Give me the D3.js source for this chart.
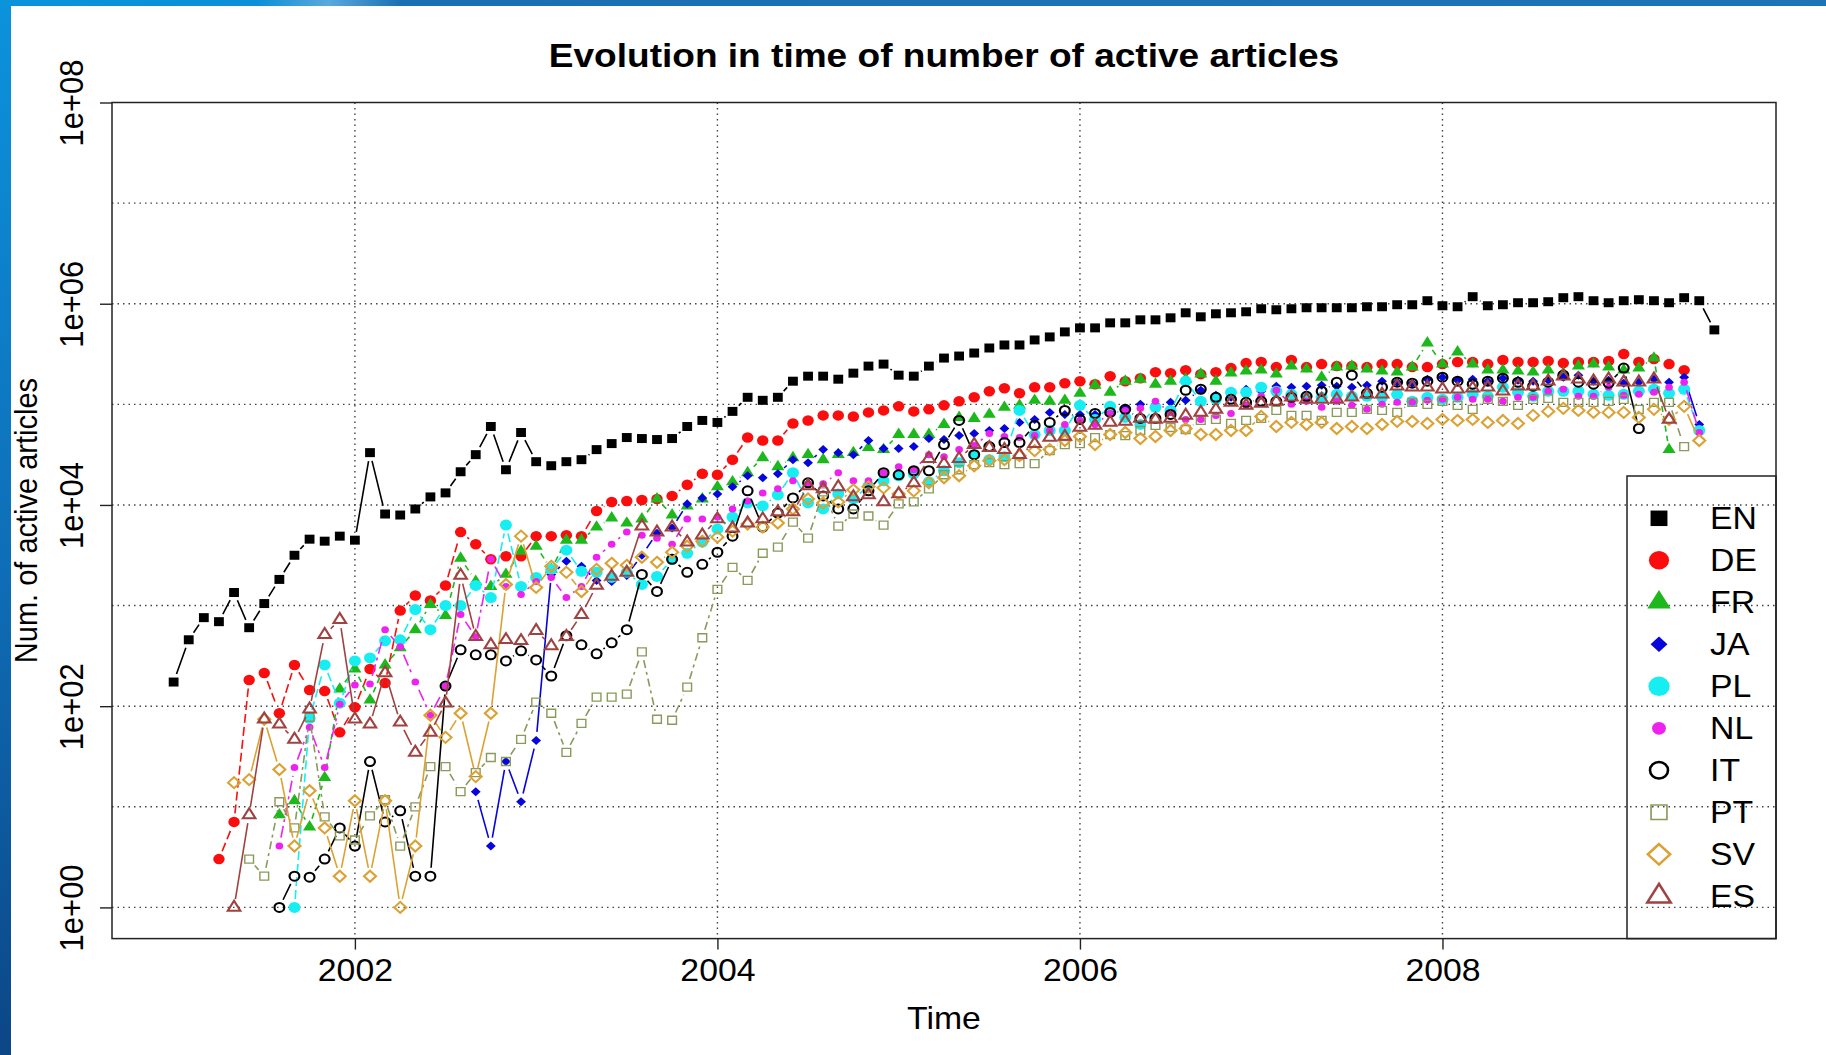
<!DOCTYPE html>
<html lang="en">
<head>
    <meta charset="UTF-8">
    <title>Evolution in time of number of active articles</title>
    <script src="https://cdn.jsdelivr.net/npm/d3@7"></script>
    <style>
        body{
            margin: 0;
            background-color: #fff;
        }
        text{
            font-family: "Liberation Sans", Arial, Helvetica, sans-serif;
        }
    </style>
</head>
<body>
<script>

    // Languages, in legend order, and the month (0 = Jan 2001) of each first point
    const languages = ["EN", "DE", "FR", "JA", "PL", "NL", "IT", "PT", "SV", "ES"];
    const startMonth = [0, 3, 7, 20, 8, 7, 7, 5, 4, 4];
    const firstYear = 2001;

    // log10(number of active articles), one value per month
    const EN = [2.24, 2.66, 2.88, 2.84, 3.13, 2.78, 3.02, 3.26, 3.50, 3.66,
        3.64, 3.69, 3.65, 4.52, 3.91, 3.90, 3.96, 4.08, 4.12, 4.33,
        4.50, 4.78, 4.35, 4.72, 4.43, 4.39, 4.43, 4.45, 4.55, 4.61,
        4.67, 4.66, 4.65, 4.66, 4.78, 4.84, 4.82, 4.93, 5.07, 5.04,
        5.07, 5.23, 5.28, 5.28, 5.25, 5.31, 5.38, 5.40, 5.29, 5.28,
        5.38, 5.46, 5.48, 5.51, 5.56, 5.59, 5.59, 5.64, 5.67, 5.72,
        5.76, 5.76, 5.81, 5.81, 5.84, 5.84, 5.86, 5.91, 5.87, 5.90,
        5.91, 5.92, 5.95, 5.94, 5.95, 5.96, 5.96, 5.96, 5.96, 5.97,
        5.97, 5.99, 5.99, 6.03, 5.98, 5.97, 6.07, 5.98, 5.99, 6.01,
        6.01, 6.02, 6.06, 6.07, 6.03, 6.01, 6.03, 6.04, 6.03, 6.01,
        6.06, 6.03, 5.74];
    const DE = [0.48, 0.85, 2.26, 2.33, 1.93, 2.41, 2.16,
        2.15, 1.74, 1.99, 2.37, 2.23, 2.95, 3.10, 3.05, 3.20, 3.73,
        3.61, 3.46, 3.49, 3.49, 3.69, 3.69, 3.70, 3.69, 3.94, 4.03,
        4.04, 4.05, 4.06, 4.09, 4.20, 4.31, 4.30, 4.45, 4.67, 4.64,
        4.64, 4.81, 4.84, 4.89, 4.89, 4.88, 4.92, 4.94, 4.98, 4.93,
        4.95, 4.99, 5.03, 5.07, 5.13, 5.16, 5.11, 5.17, 5.17, 5.21,
        5.23, 5.20, 5.28, 5.23, 5.26, 5.32, 5.31, 5.34, 5.30, 5.32,
        5.36, 5.41, 5.42, 5.37, 5.44, 5.37, 5.40, 5.38, 5.38, 5.37,
        5.40, 5.40, 5.37, 5.37, 5.40, 5.42, 5.42, 5.40, 5.44, 5.42,
        5.42, 5.43, 5.41, 5.42, 5.42, 5.43, 5.50, 5.42, 5.45, 5.40,
        5.34];
    const FR = [0.92, 1.06, 0.80,
        1.29, 2.17, 2.37, 2.06, 2.41, 2.58, 2.76, 3.01, 2.90, 3.47,
        3.24, 3.19, 3.31, 3.54, 3.59, 3.36, 3.65, 3.65, 3.78, 3.87,
        3.82, 3.86, 4.06, 3.90, 3.99, 4.06, 4.18, 4.23, 4.32, 4.47,
        4.38, 4.47, 4.50, 4.45, 4.50, 4.52, 4.57, 4.55, 4.70, 4.70,
        4.70, 4.80, 4.87, 4.86, 4.90, 4.97, 4.99, 5.04, 5.03, 5.04,
        5.11, 5.19, 5.12, 5.23, 5.25, 5.20, 5.23, 5.25, 5.30, 5.23,
        5.31, 5.33, 5.34, 5.30, 5.38, 5.35, 5.27, 5.37, 5.38, 5.35,
        5.33, 5.32, 5.37, 5.61, 5.40, 5.52, 5.40, 5.34, 5.34, 5.33,
        5.32, 5.34, 5.31, 5.38, 5.40, 5.37, 5.34, 5.36, 5.46, 4.55];
    const JA = [1.15, 0.61, 1.45, 1.05, 1.66, 3.31, 3.44, 3.39, 3.25, 3.24,
        3.30, 3.50, 3.72, 3.77, 4.01, 4.07, 4.11, 4.18, 4.29, 4.27,
        4.31, 4.45, 4.42, 4.55, 4.52, 4.50, 4.64, 4.56, 4.56, 4.58,
        4.66, 4.65, 4.69, 4.71, 4.74, 4.76, 4.82, 4.85, 4.92, 4.90,
        4.90, 4.90, 4.92, 4.96, 5.00, 5.00, 5.02, 5.04, 5.14, 5.09,
        5.07, 5.15, 5.13, 5.18, 5.17, 5.18, 5.19, 5.18, 5.17, 5.19,
        5.23, 5.22, 5.21, 5.25, 5.27, 5.24, 5.25, 5.23, 5.26, 5.24,
        5.23, 5.24, 5.27, 5.29, 5.23, 5.24, 5.21, 5.22, 5.25, 5.22,
        5.27, 4.80];
    const PL = [0.00, 1.88,
        2.41, 2.03, 2.45, 2.48, 2.65, 2.66, 2.96, 2.76, 3.00, 3.00,
        3.20, 3.08, 3.80, 3.19, 3.28, 3.36, 3.55, 3.34, 3.33, 3.28,
        3.33, 3.21, 3.29, 3.46, 3.52, 3.63, 3.76, 3.88, 4.02, 3.99,
        4.10, 4.32, 4.02, 3.96, 4.11, 4.06, 4.19, 4.24, 4.29, 4.31,
        4.23, 4.34, 4.42, 4.50, 4.45, 4.48, 4.94, 4.70, 4.74, 4.74,
        4.99, 4.85, 4.98, 4.87, 4.80, 4.97, 4.94, 5.23, 5.03, 5.05,
        5.12, 5.12, 5.17, 5.13, 5.10, 5.08, 5.07, 5.10, 5.08, 5.08,
        5.07, 5.10, 5.03, 5.07, 5.05, 5.07, 5.10, 5.08, 5.17, 5.12,
        5.08, 5.13, 5.13, 5.13, 5.10, 5.09, 5.10, 5.13, 5.15, 5.11,
        5.15, 4.74];
    const NL = [0.61, 1.39, 1.79,
        1.39, 2.02, 2.21, 2.22, 2.76, 2.59, 2.24, 1.91, 2.20, 2.91,
        2.69, 3.46, 3.19, 3.11, 3.24, 3.28, 3.08, 3.19, 3.48, 3.61,
        3.73, 3.70, 3.67, 3.61, 3.86, 3.86, 3.88, 3.96, 4.04, 4.12,
        4.16, 4.24, 4.21, 4.21, 4.32, 4.24, 4.24, 4.32, 4.38, 4.35,
        4.50, 4.48, 4.55, 4.59, 4.71, 4.68, 4.67, 4.69, 4.74, 4.80,
        4.84, 4.80, 4.91, 4.94, 4.96, 5.03, 4.92, 4.85, 4.85, 4.89,
        4.91, 4.99, 5.08, 5.14, 5.00, 5.03, 4.97, 5.03, 4.99, 4.95,
        5.00, 5.02, 5.02, 5.04, 5.05, 5.07, 5.05, 5.05, 5.03, 5.07,
        5.07, 5.13, 5.15, 5.08, 5.08, 5.17, 5.09, 5.10, 5.12, 5.17,
        5.22, 4.72];
    const IT = [0.00, 0.31, 0.30,
        0.48, 0.79, 0.61, 1.45, 0.85, 0.96, 0.31, 0.31, 2.20, 2.56,
        2.51, 2.51, 2.45, 2.55, 2.46, 2.30, 2.70, 2.61, 2.52, 2.63,
        2.76, 3.31, 3.14, 3.46, 3.33, 3.41, 3.53, 3.69, 4.14, 3.78,
        3.92, 4.07, 4.22, 4.09, 3.96, 3.96, 4.14, 4.32, 4.30, 4.34,
        4.34, 4.60, 4.84, 4.50, 4.58, 4.62, 4.62, 4.79, 4.82, 4.94,
        4.85, 4.91, 4.92, 4.95, 4.86, 4.86, 4.90, 5.14, 5.15, 5.07,
        5.05, 5.02, 5.03, 5.03, 5.07, 5.08, 5.13, 5.22, 5.29, 5.11,
        5.17, 5.22, 5.21, 5.23, 5.27, 5.23, 5.20, 5.23, 5.26, 5.22,
        5.18, 5.22, 5.29, 5.22, 5.20, 5.21, 5.36, 4.76];
    const PT = [0.48, 0.31, 1.05, 0.79, 1.89,
        0.90, 0.71, 0.67, 0.91, 1.07, 0.61, 1.00, 1.40, 1.40, 1.15,
        1.34, 1.49, 1.45, 1.67, 2.04, 1.93, 1.54, 1.83, 2.09, 2.09,
        2.12, 2.54, 1.87, 1.86, 2.19, 2.68, 3.16, 3.38, 3.25, 3.52,
        3.58, 3.83, 3.67, 4.13, 3.79, 3.91, 3.89, 3.80, 4.01, 4.03,
        4.16, 4.30, 4.35, 4.40, 4.42, 4.40, 4.41, 4.41, 4.54, 4.60,
        4.61, 4.67, 4.70, 4.69, 4.74, 4.79, 4.77, 4.75, 4.84, 4.85,
        4.81, 4.84, 4.86, 4.94, 4.89, 4.89, 4.84, 4.92, 4.92, 4.95,
        4.94, 4.92, 5.02, 5.00, 5.03, 4.99, 4.95, 5.05, 5.03, 4.99,
        5.05, 5.06, 5.02, 5.02, 5.02, 5.03, 5.05, 4.95, 5.02, 5.02,
        4.58];
    const SV = [1.24, 1.27, 1.87, 1.37, 0.61, 1.16,
        0.79, 0.31, 1.06, 0.31, 1.06, 0.00, 0.61, 1.91, 1.69, 1.93,
        1.30, 1.93, 3.21, 3.69, 3.18, 3.39, 3.33, 3.14, 3.36, 3.42,
        3.40, 3.48, 3.43, 3.53, 3.59, 3.64, 3.68, 3.74, 3.81, 3.78,
        3.82, 3.96, 4.06, 4.02, 4.03, 4.15, 4.18, 4.17, 4.11, 4.14,
        4.22, 4.27, 4.29, 4.39, 4.44, 4.45, 4.49, 4.54, 4.55, 4.64,
        4.68, 4.60, 4.70, 4.72, 4.66, 4.68, 4.74, 4.76, 4.70, 4.70,
        4.74, 4.74, 4.88, 4.78, 4.82, 4.80, 4.82, 4.76, 4.78, 4.76,
        4.80, 4.83, 4.83, 4.81, 4.85, 4.84, 4.85, 4.82, 4.84, 4.81,
        4.89, 4.93, 4.96, 4.94, 4.92, 4.92, 4.92, 4.87, 4.95, 4.85,
        4.98, 4.64];
    const ES = [0.00, 0.92, 1.87, 1.82, 1.67, 1.97,
        2.71, 2.86, 1.87, 1.82, 2.33, 1.84, 1.54, 1.74, 2.03, 3.30,
        2.69, 2.61, 2.66, 2.65, 2.75, 2.60, 2.69, 2.91, 3.20, 3.29,
        3.33, 3.79, 3.73, 3.78, 3.63, 3.70, 3.86, 3.77, 3.82, 3.86,
        3.93, 3.93, 4.19, 4.16, 4.18, 4.08, 4.10, 4.03, 4.11, 4.22,
        4.46, 4.41, 4.46, 4.60, 4.57, 4.55, 4.50, 4.61, 4.67, 4.68,
        4.77, 4.79, 4.82, 4.83, 4.86, 4.85, 4.86, 4.89, 4.92, 4.95,
        5.02, 4.99, 5.01, 5.03, 5.07, 5.05, 5.05, 5.05, 5.07, 5.10,
        5.10, 5.18, 5.17, 5.17, 5.15, 5.15, 5.16, 5.17, 5.13, 5.18,
        5.18, 5.23, 5.28, 5.25, 5.23, 5.25, 5.22, 5.22, 5.25, 4.85];

    const seriesValues = [EN, DE, FR, JA, PL, NL, IT, PT, SV, ES];
    const xTicks = [2002, 2004, 2006, 2008];
    const yTicks = [1, 1e2, 1e4, 1e6, 1e8];

    // Look of each series
    const colors = ["#000000", "#fb0d0d", "#1cb81c", "#0505dc", "#16eef2", "#ee22ee",
        "#000000", "#8b9a5b", "#dba233", "#a04242"];
    const shapes = ["square", "circle", "triangle", "diamond", "circle", "circle",
        "circle", "square", "diamond", "triangle"];
    const filled = [true, true, true, true, true, true, false, false, false, false];
    const sizes = [9, 10.5, 12, 9, 11, 7, 9, 8, 11, 11.5];
    const legendSizes = [15.5, 18.5, 21.5, 15.5, 19.5, 12.7, 16.5, 14.6, 20.5, 21.5];
    const dashes = [null, "9,4", "6,4", null, "9,4", "12,4,3,4", null, "8,4,3,4", null, null];

    const width = 1826;
    const height = 1055;
    const plot = {left: 112, right: 1776, top: 102.5, bottom: 938.6};
    const stretch = 1.09;   // the picture is a little wider than tall
    const gap = 8.5;        // space left round each point (type "b")

    const svg = d3.select("body")
        .append("svg")
        .attr("width", width)
        .attr("height", height);

    // Slide frame in the corner
    const defs = svg.append("defs");
    const gLeft = defs.append("linearGradient").attr("id", "edgeLeft")
        .attr("x1", 0).attr("y1", 0).attr("x2", 0).attr("y2", 1);
    gLeft.append("stop").attr("offset", "0%").attr("stop-color", "#0b93dc");
    gLeft.append("stop").attr("offset", "55%").attr("stop-color", "#0e6db6");
    gLeft.append("stop").attr("offset", "100%").attr("stop-color", "#0c4686");
    const gTop = defs.append("linearGradient").attr("id", "edgeTop")
        .attr("x1", 0).attr("y1", 0).attr("x2", 1).attr("y2", 0);
    gTop.append("stop").attr("offset", "0%").attr("stop-color", "#0a93dc");
    gTop.append("stop").attr("offset", "14%").attr("stop-color", "#0a8fd8");
    gTop.append("stop").attr("offset", "18%").attr("stop-color", "#5aa8dc");
    gTop.append("stop").attr("offset", "22%").attr("stop-color", "#1a6fb3");
    gTop.append("stop").attr("offset", "100%").attr("stop-color", "#1c74b8");
    svg.append("rect").attr("x", 0).attr("y", 0).attr("width", width).attr("height", 6)
        .attr("fill", "url(#edgeTop)");
    svg.append("rect").attr("x", 0).attr("y", 0).attr("width", 11).attr("height", height)
        .attr("fill", "url(#edgeLeft)");

    // Scales
    const x = d3.scaleLinear()
        .domain([2000.66, 2009.84])
        .range([plot.left, plot.right]);
    const y = d3.scaleLog()
        .domain([Math.pow(10, -0.31), 1e8])
        .range([plot.bottom, plot.top]);

    // Dotted grid
    const grid = svg.append("g")
        .attr("stroke", "#444")
        .attr("stroke-width", 1.4)
        .attr("stroke-dasharray", "1.5,4");
    grid.selectAll("line.h")
        .data(d3.range(0, 8).map(e => Math.pow(10, e)))
        .enter()
        .append("line")
        .attr("x1", plot.left).attr("x2", plot.right)
        .attr("y1", d => y(d)).attr("y2", d => y(d));
    grid.selectAll("line.v")
        .data(xTicks)
        .enter()
        .append("line")
        .attr("x1", d => x(d)).attr("x2", d => x(d))
        .attr("y1", plot.top).attr("y2", plot.bottom);

    // Marker shapes
    function markerPath(shape, s) {
        if (shape === "square") return d3.symbol(d3.symbolSquare, s * s)();
        if (shape === "circle") return d3.symbol(d3.symbolCircle, Math.PI * s * s / 4)();
        if (shape === "triangle") return d3.symbol(d3.symbolTriangle, Math.sqrt(3) / 4 * s * s)();
        const h = s / 2;
        return `M0,${-h}L${h},0L0,${h}L${-h},0Z`;
    }

    // Series: broken lines then points
    seriesValues.forEach((vals, k) => {
        const pts = vals.map((v, j) => [
            x(firstYear + (startMonth[k] + j) / 12),
            y(Math.pow(10, v))
        ]);

        const p = d3.path();
        for (let j = 0; j < pts.length - 1; j++) {
            const a = pts[j], b = pts[j + 1];
            const dx = b[0] - a[0], dy = b[1] - a[1];
            const d = Math.hypot(dx, dy);
            if (d <= 2 * gap) continue;
            p.moveTo(a[0] + dx / d * gap, a[1] + dy / d * gap);
            p.lineTo(b[0] - dx / d * gap, b[1] - dy / d * gap);
        }
        svg.append("path")
            .attr("d", p.toString())
            .attr("fill", "none")
            .attr("stroke", colors[k])
            .attr("stroke-width", 1.6)
            .attr("stroke-dasharray", dashes[k]);

        svg.append("g")
            .selectAll("path")
            .data(pts)
            .enter()
            .append("path")
            .attr("d", markerPath(shapes[k], sizes[k]))
            .attr("transform", d => `translate(${d[0]},${d[1]}) scale(${stretch},1)`)
            .attr("fill", filled[k] ? colors[k] : "none")
            .attr("stroke", colors[k])
            .attr("stroke-width", filled[k] ? 0 : (shapes[k] === "square" ? 1.3 : 2));
    });

    // Axes
    const xAxis = svg.append("g")
        .attr("transform", `translate(0,${plot.bottom})`)
        .call(d3.axisBottom(x).tickValues(xTicks).tickFormat(d3.format("d")).tickSize(11));
    xAxis.select(".domain").remove();
    xAxis.selectAll("line").attr("stroke", "#222").attr("stroke-width", 1.4);
    xAxis.selectAll("text")
        .attr("y", 42.4)
        .attr("dy", null)
        .attr("transform", `scale(${stretch},1)`)
        .attr("fill", "#000")
        .style("font-family", "'Liberation Sans', Arial, sans-serif")
        .style("font-size", "31px");

    const yAxis = svg.append("g")
        .attr("transform", `translate(${plot.left},0)`)
        .call(d3.axisLeft(y).tickValues(yTicks)
            .tickFormat(d => "1e+" + String(Math.round(Math.log10(d))).padStart(2, "0"))
            .tickSize(12));
    yAxis.select(".domain").remove();
    yAxis.selectAll("line").attr("stroke", "#222").attr("stroke-width", 1.4);
    yAxis.selectAll("text")
        .attr("x", 0)
        .attr("dy", null)
        .attr("text-anchor", "middle")
        .attr("transform", `translate(-29.4,0) scale(${stretch},1) rotate(-90)`)
        .attr("fill", "#000")
        .style("font-family", "'Liberation Sans', Arial, sans-serif")
        .style("font-size", "31px");

    // Plot box
    svg.append("rect")
        .attr("x", plot.left).attr("y", plot.top)
        .attr("width", plot.right - plot.left).attr("height", plot.bottom - plot.top)
        .attr("fill", "none")
        .attr("stroke", "#222")
        .attr("stroke-width", 1.5);

    // Titles
    svg.append("text")
        .attr("transform", `translate(${(plot.left + plot.right) / 2},66.7) scale(${stretch},1)`)
        .attr("text-anchor", "middle")
        .style("font-size", "34px")
        .style("font-weight", "bold")
        .text("Evolution in time of number of active articles");
    svg.append("text")
        .attr("transform", `translate(${(plot.left + plot.right) / 2},1029) scale(${stretch},1)`)
        .attr("text-anchor", "middle")
        .style("font-size", "31px")
        .text("Time");
    svg.append("text")
        .attr("transform", `translate(37,${(plot.top + plot.bottom) / 2}) scale(${stretch},1) rotate(-90)`)
        .attr("text-anchor", "middle")
        .style("font-size", "29px")
        .text("Num. of active articles");

    // Legend (no fill, the grid shows through)
    const legend = svg.append("g");
    legend.append("rect")
        .attr("x", 1627).attr("y", 476)
        .attr("width", plot.right - 1627).attr("height", plot.bottom - 476)
        .attr("fill", "none")
        .attr("stroke", "#222")
        .attr("stroke-width", 1.5);
    const item = legend.selectAll("g.item")
        .data(languages)
        .enter()
        .append("g")
        .attr("transform", (d, i) => `translate(0,${518.3 + 42 * i})`);
    item.append("path")
        .attr("d", (d, i) => markerPath(shapes[i], legendSizes[i]))
        .attr("transform", `translate(1659,0) scale(${stretch},1)`)
        .attr("fill", (d, i) => filled[i] ? colors[i] : "none")
        .attr("stroke", (d, i) => colors[i])
        .attr("stroke-width", (d, i) => filled[i] ? 0 : (shapes[i] === "square" ? 1.5 : 2.4));
    item.append("text")
        .attr("transform", `translate(1710,11) scale(${stretch},1)`)
        .style("font-size", "31px")
        .text(d => d);

</script>
</body>
</html>
